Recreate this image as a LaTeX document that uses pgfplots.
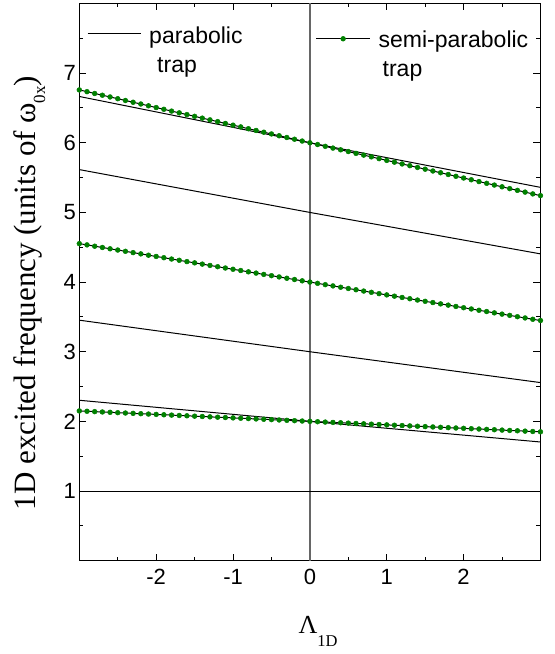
\documentclass[border=0pt]{standalone}
\usepackage{fontspec}
\setmainfont{Liberation Sans}
\newfontfamily\seriffont{Liberation Serif}
\usepackage{pgfplots}
\usepackage{pgfplotstable}
\pgfplotsset{compat=1.18}
\definecolor{dotgreen}{RGB}{0,128,0}

\pgfplotsset{
    linelegend/.style={legend image code/.code={\draw[##1] (0pt,0pt) -- (53pt,0pt);}},
    dotlegend/.style={legend image code/.code={\draw[##1, mark repeat=2, mark phase=2] plot coordinates {(0pt,-5pt) (27pt,-5pt) (54pt,-5pt)};}},
    semi/.style={black, line width=1pt, mark=*, mark size=2.4pt, mark options={fill=dotgreen, draw=dotgreen, line width=0.5pt}},
}

% semi-parabolic trap, levels 2, 4, 6
\pgfplotstableread{
x    y2    y4    y6
-3.0 2.150 4.552 6.759
-2.9 2.145 4.534 6.734
-2.8 2.140 4.515 6.708
-2.7 2.135 4.497 6.683
-2.6 2.130 4.478 6.658
-2.5 2.125 4.460 6.633
-2.4 2.120 4.442 6.607
-2.3 2.115 4.423 6.582
-2.2 2.110 4.405 6.557
-2.1 2.105 4.386 6.531
-2.0 2.100 4.368 6.506
-1.9 2.095 4.350 6.481
-1.8 2.090 4.331 6.455
-1.7 2.085 4.313 6.430
-1.6 2.080 4.294 6.405
-1.5 2.075 4.276 6.380
-1.4 2.070 4.258 6.354
-1.3 2.065 4.239 6.329
-1.2 2.060 4.221 6.304
-1.1 2.055 4.202 6.278
-1.0 2.050 4.184 6.253
-0.9 2.045 4.166 6.228
-0.8 2.040 4.147 6.202
-0.7 2.035 4.129 6.177
-0.6 2.030 4.110 6.152
-0.5 2.025 4.092 6.127
-0.4 2.020 4.074 6.101
-0.3 2.015 4.055 6.076
-0.2 2.010 4.037 6.051
-0.1 2.005 4.018 6.025
0.0  2.000 4.000 6.000
0.1  1.995 3.982 5.975
0.2  1.990 3.963 5.949
0.3  1.985 3.945 5.924
0.4  1.980 3.926 5.899
0.5  1.975 3.908 5.874
0.6  1.970 3.890 5.848
0.7  1.965 3.871 5.823
0.8  1.960 3.853 5.798
0.9  1.955 3.834 5.772
1.0  1.950 3.816 5.747
1.1  1.945 3.798 5.722
1.2  1.940 3.779 5.696
1.3  1.935 3.761 5.671
1.4  1.930 3.742 5.646
1.5  1.925 3.724 5.621
1.6  1.920 3.706 5.595
1.7  1.915 3.687 5.570
1.8  1.910 3.669 5.545
1.9  1.905 3.650 5.519
2.0  1.900 3.632 5.494
2.1  1.895 3.614 5.469
2.2  1.890 3.595 5.443
2.3  1.885 3.577 5.418
2.4  1.880 3.558 5.393
2.5  1.875 3.540 5.368
2.6  1.870 3.522 5.342
2.7  1.865 3.503 5.317
2.8  1.860 3.485 5.292
2.9  1.855 3.466 5.266
3.0  1.850 3.448 5.241
}\semitrap

\begin{document}
\begin{tikzpicture}
\begin{axis}[
    scale only axis,
    width=461pt, height=557pt,
    xmin=-3, xmax=3, ymin=0, ymax=8,
    xtick={-2,-1,0,1,2}, xticklabels={-2,-1,0,1,2},
    minor xtick={-2.5,-1.5,...,2.5},
    ytick={1,...,7}, minor ytick={0.5,1.5,...,7.5},
    /pgf/number format/assume math mode=true,
    tick label style={font=\fontsize{22}{22}\selectfont},
    xticklabel style={yshift=-5pt},
    major tick length=7pt, minor tick length=4pt,
    every tick/.style={black, line width=1pt},
    axis line style={line width=1.2pt},
    xlabel={\seriffont\fontsize{26}{26}\selectfont Λ\raisebox{-12pt}{\fontsize{16.5}{16.5}\selectfont 1D}},
    xlabel style={at={(axis description cs:0.5178,-0.1316)}, anchor=base, inner sep=0pt},
    ylabel={\seriffont\fontsize{31}{31}\selectfont 1D excited frequency (units of ω\raisebox{-10pt}{\fontsize{17}{17}\selectfont 0x})},
    ylabel style={at={(axis description cs:-0.0961,0.0905)}, anchor=base west, inner sep=0pt},
    legend columns=2,
    legend cell align=left,
    legend style={draw=none, fill=none, at={(axis description cs:0.0167,0.971)}, anchor=north west,
        inner sep=0pt, font=\fontsize{23}{29}\selectfont, nodes={inner sep=3pt},
        /tikz/every odd column/.append style={column sep=5pt},
        /tikz/every even column/.append style={column sep=70pt}},
]
\addlegendimage{black, line width=1pt, linelegend}
\addlegendentry{\raisebox{0pt}[\height][0pt]{\begin{tabular}[t]{@{}l@{}}parabolic\\\hspace*{8pt}trap\end{tabular}}}
\addlegendimage{semi, dotlegend}
\addlegendentry{\raisebox{-4pt}[\height][0pt]{\begin{tabular}[t]{@{}l@{}}semi-parabolic\\\hspace*{4pt}trap\end{tabular}}}

% Lambda = 0
\addplot[black!60, line width=1.3pt, forget plot] coordinates {(0,0) (0,8)};

% parabolic trap
\addplot[black, line width=1pt, forget plot] coordinates {(-3,1) (3,1)};
\addplot[black, line width=1pt, forget plot] coordinates {(-3,2.303) (0,2) (3,1.704)};
\addplot[black, line width=1pt, forget plot] coordinates {(-3,3.453) (0,3) (3,2.557)};
\addplot[black, line width=1pt, forget plot] coordinates {(-3,5.615) (0,5) (3,4.405)};
\addplot[black, line width=1pt, forget plot] coordinates {(-3,6.665) (0,6) (3,5.360)};

% semi-parabolic trap
\addplot[semi, forget plot] table[x=x, y=y2] {\semitrap};
\addplot[semi, forget plot] table[x=x, y=y4] {\semitrap};
\addplot[semi, forget plot] table[x=x, y=y6] {\semitrap};
\end{axis}
\pgfresetboundingbox
\path ([shift={(-79.3pt,-93.3pt)}]current axis.south west) rectangle ([shift={(13.7pt,3.5pt)}]current axis.north east);
\end{tikzpicture}
\end{document}
